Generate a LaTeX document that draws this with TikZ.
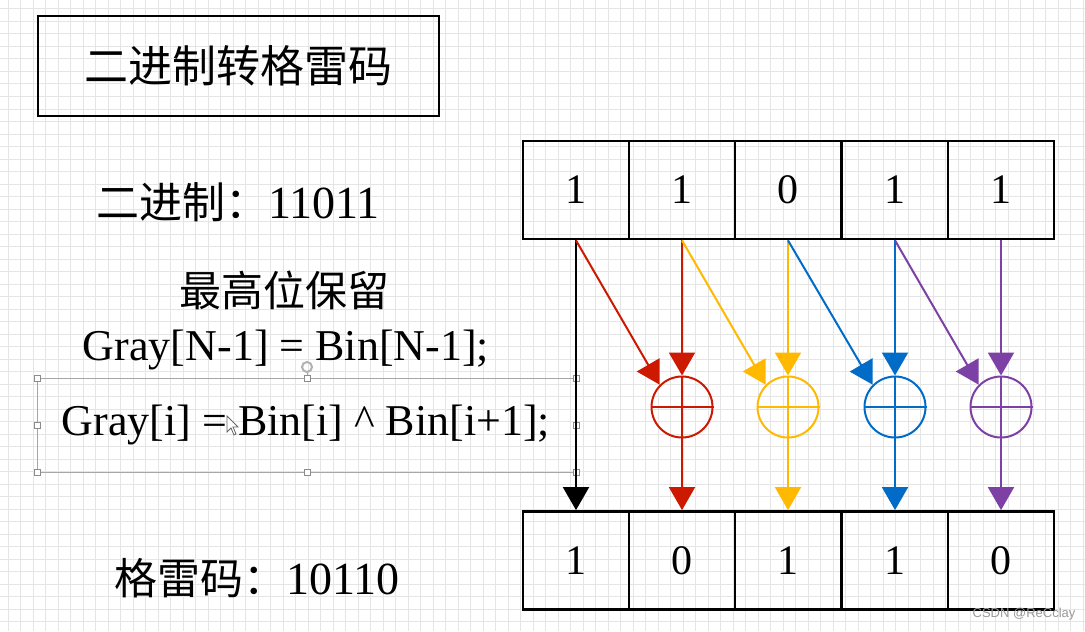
\documentclass[tikz,border=0pt]{standalone}
\usepackage{fontspec}
\setmainfont{Liberation Serif}
\newfontfamily\cjk{Noto Sans CJK SC}
\newfontfamily\wmfont{Liberation Sans}
\usetikzlibrary{arrows.meta}
\definecolor{xred}{RGB}{204,25,0}
\definecolor{xyellow}{RGB}{255,185,0}
\definecolor{xblue}{RGB}{0,108,200}
\definecolor{xpurple}{RGB}{125,65,165}

\begin{document}
\begin{tikzpicture}[x=0.5pt,y=-0.5pt,
  cell/.style={draw,line width=1.4pt,minimum width=53pt,minimum height=49pt,inner sep=0pt,font=\fontsize{21}{21}\selectfont},
  xorc/.style={draw,circle,line width=1pt,minimum size=30.5pt,inner sep=0pt},
  arr/.style={line width=1pt,-{Triangle[length=11.5pt,width=13pt]}},
  handle/.style={draw=black!45,fill=white,minimum size=3pt,inner sep=0pt,line width=0.4pt},
  gridline/.style={draw=black!10,line width=0.5pt}]
  \useasboundingbox (0,0) rectangle (1085,631);
  \fill[white] (0,0) rectangle (1085,631);
  \foreach \gx in {8,20.5,...,1085} \draw[gridline] (\gx,0) -- (\gx,631);
  \foreach \gy in {9,21.5,...,631} \draw[gridline] (0,\gy) -- (1085,\gy);

  \node (title) at (238.5,66) [draw,line width=1.4pt,minimum width=200.5pt,minimum height=50pt,font=\cjk\fontsize{22}{22}\selectfont] {二进制转格雷码};
  \node (bin) at (238,202) [font=\fontsize{23}{23}\selectfont] {{\cjk\fontsize{21.5}{21.5}\selectfont 二进制：}11011};
  \node (keep) at (284,290) [font=\cjk\fontsize{21}{21}\selectfont] {最高位保留};
  \node (rule1) at (286,350) [font=\fontsize{22}{22}\selectfont] {Gray[N-1] = Bin[N-1];};
  \node (rule2) at (306,425) [font=\fontsize{22}{22}\selectfont] {Gray[i] = Bin[i] \^{} Bin[i+1];};
  \node (gray) at (257,578) [font=\fontsize{23}{23}\selectfont] {{\cjk\fontsize{21.5}{21.5}\selectfont 格雷码：}10110};

  \draw [draw=black!35,line width=0.5pt] (37,378) rectangle (576,472);
  \node (rot) at (307,367) [draw=black!30,circle,line width=1pt,minimum size=5pt,inner sep=0pt] {};
  \node (h1) at (37,378) [handle] {};
  \node (h2) at (307,378) [handle] {};
  \node (h3) at (576,378) [handle] {};
  \node (h4) at (37,425) [handle] {};
  \node (h5) at (576,425) [handle] {};
  \node (h6) at (37,472) [handle] {};
  \node (h7) at (307,472) [handle] {};
  \node (h8) at (576,472) [handle] {};
  \draw [draw=black!35,line width=0.5pt] (rot) -- (h2);
  \draw [fill=white,draw=black!60,line width=0.4pt] (227,416) -- (227,432) -- (231,428) -- (234,435) -- (236,434) -- (233,427) -- (238,427) -- cycle;

  \node (b1) at (576,190) [cell] {1};
  \node (b2) at (682,190) [cell] {1};
  \node (b3) at (788,190) [cell] {0};
  \node (b4) at (895,190) [cell] {1};
  \node (b5) at (1001,190) [cell] {1};
  \node (g1) at (576,560.5) [cell] {1};
  \node (g2) at (682,560.5) [cell] {0};
  \node (g3) at (788,560.5) [cell] {1};
  \node (g4) at (895,560.5) [cell] {1};
  \node (g5) at (1001,560.5) [cell] {0};

  \node (x1) at (682,407) [xorc,draw=xred] {};
  \node (x2) at (788,407) [xorc,draw=xyellow] {};
  \node (x3) at (895,407) [xorc,draw=xblue] {};
  \node (x4) at (1001,407) [xorc,draw=xpurple] {};
  \draw [xred,line width=1pt] (x1.west) -- (x1.east) (x1.north) -- (x1.south);
  \draw [xyellow,line width=1pt] (x2.west) -- (x2.east) (x2.north) -- (x2.south);
  \draw [xblue,line width=1pt] (x3.west) -- (x3.east) (x3.north) -- (x3.south);
  \draw [xpurple,line width=1pt] (x4.west) -- (x4.east) (x4.north) -- (x4.south);

  \draw [arr] (b1.south) -- (g1.north);
  \draw [arr,xred] (b1.south) -- (x1.north west);
  \draw [arr,xred] (b2.south) -- (x1.north);
  \draw [arr,xred] (x1.south) -- (g2.north);
  \draw [arr,xyellow] (b2.south) -- (x2.north west);
  \draw [arr,xyellow] (b3.south) -- (x2.north);
  \draw [arr,xyellow] (x2.south) -- (g3.north);
  \draw [arr,xblue] (b3.south) -- (x3.north west);
  \draw [arr,xblue] (b4.south) -- (x3.north);
  \draw [arr,xblue] (x3.south) -- (g4.north);
  \draw [arr,xpurple] (b4.south) -- (x4.north west);
  \draw [arr,xpurple] (b5.south) -- (x4.north);
  \draw [arr,xpurple] (x4.south) -- (g5.north);

  \node (mark) at (1024,614) [font=\wmfont\fontsize{6.5}{6.5}\selectfont,text=black!40] {CSDN @ReCclay};
\end{tikzpicture}
\end{document}
